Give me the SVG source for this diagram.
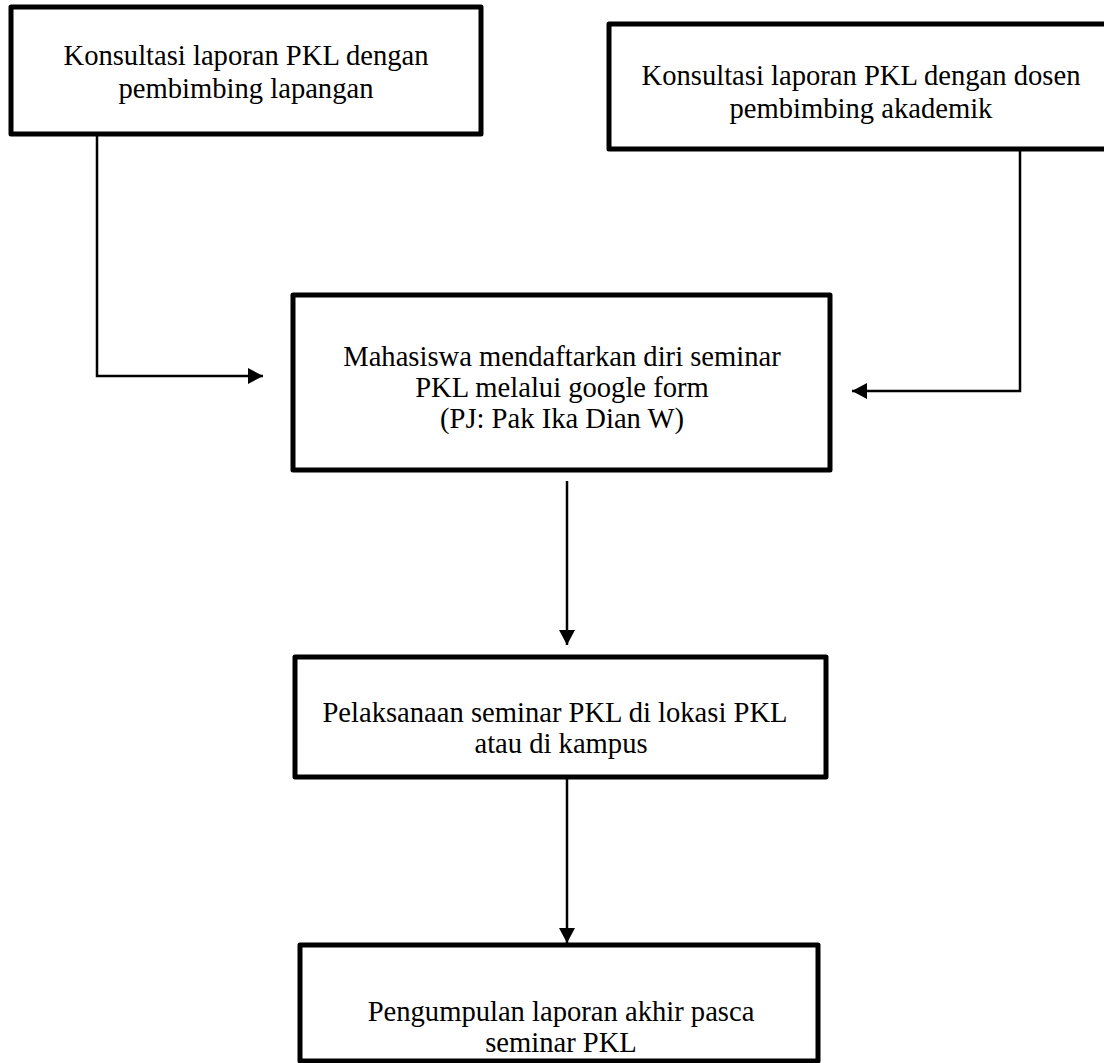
<svg xmlns="http://www.w3.org/2000/svg" width="1104" height="1063" viewBox="0 0 1104 1063">
<defs>
<style>
.box{fill:#fff;stroke:#000;stroke-width:5;stroke-linejoin:round}
.lbl{font-family:"Liberation Serif","Times New Roman",serif;font-size:28.6px;fill:#000;text-anchor:middle}
.con{fill:none;stroke:#000;stroke-width:2.5}
</style>
<marker id="ah" markerUnits="userSpaceOnUse" markerWidth="16" markerHeight="16" refX="15" refY="8" orient="auto">
<path d="M0,0 L15,8 L0,16 z" fill="#000"/>
</marker>
</defs>
<rect width="1104" height="1063" fill="#fff"/>
<g id="connectors">
<polyline class="con" points="97,134 97,376 263,376" marker-end="url(#ah)"/>
<polyline class="con" points="1020,149 1020,391 852,391" marker-end="url(#ah)"/>
<line class="con" x1="567" y1="481" x2="567" y2="645" marker-end="url(#ah)"/>
<line class="con" x1="567" y1="773" x2="567" y2="943" marker-end="url(#ah)"/>
</g>
<g id="n1">
<rect class="box" x="11" y="7" width="470" height="127"/>
<text class="lbl" x="246" y="65">Konsultasi laporan PKL dengan</text>
<text class="lbl" x="246" y="98">pembimbing lapangan</text>
</g>
<g id="n2">
<rect class="box" x="609" y="24" width="510" height="125"/>
<text class="lbl" x="861" y="85">Konsultasi laporan PKL dengan dosen</text>
<text class="lbl" x="861" y="118">pembimbing akademik</text>
</g>
<g id="n3">
<rect class="box" x="293" y="295" width="537" height="175"/>
<text class="lbl" x="562" y="366">Mahasiswa mendaftarkan diri seminar</text>
<text class="lbl" x="562" y="397">PKL melalui google form</text>
<text class="lbl" x="562" y="428">(PJ: Pak Ika Dian W)</text>
</g>
<g id="n4">
<rect class="box" x="295" y="657" width="531" height="120"/>
<text class="lbl" x="555" y="722">Pelaksanaan seminar PKL di lokasi PKL</text>
<text class="lbl" x="561" y="753">atau di kampus</text>
</g>
<g id="n5">
<rect class="box" x="300" y="945" width="518" height="116"/>
<text class="lbl" x="561" y="1021">Pengumpulan laporan akhir pasca</text>
<text class="lbl" x="561" y="1052">seminar PKL</text>
</g>
</svg>
